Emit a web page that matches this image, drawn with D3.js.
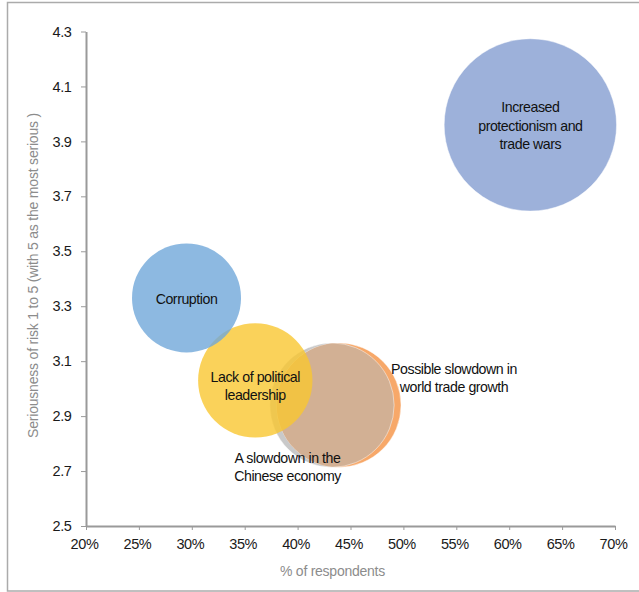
<!DOCTYPE html>
<html>
<head>
<meta charset="utf-8">
<script src="https://cdn.jsdelivr.net/npm/d3@7"></script>
<style>
  body { margin: 0; background: #fff; }
  svg { display: block; }
  text { font-family: "Liberation Sans", Arial, sans-serif; }
</style>
</head>
<body>
<svg id="chart" width="639" height="592"></svg>
<script>
// Risk categories and their survey results
const risks = [
  "Increased protectionism and trade wars",
  "Corruption",
  "Lack of political leadership",
  "A slowdown in the Chinese economy",
  "Possible slowdown in world trade growth"
];
const labelLines = [
  ["Increased", "protectionism and", "trade wars"],
  ["Corruption"],
  ["Lack of political", "leadership"],
  ["A slowdown in the", "Chinese economy"],
  ["Possible slowdown in", "world trade growth"]
];
const respondentShare = [62, 29.5, 36, 43.25, 43.9];   // % of respondents
const seriousness     = [3.96, 3.33, 3.03, 2.94, 2.94]; // score 1-5
const bubbleSize      = [100, 40, 44, 52, 52];          // relative bubble area

const xTicks = [20, 25, 30, 35, 40, 45, 50, 55, 60, 65, 70];
const yTicks = [2.5, 2.7, 2.9, 3.1, 3.3, 3.5, 3.7, 3.9, 4.1, 4.3];

// Styling / layout (not data)
const fills = ["#9DB1DA", "#70A8DA", "#F9C731", "#C9C9C9", "#F7A869"];
const fillOpacity = [1, 0.8, 0.8, 1, 1];
const overlapFill = "#D2B094";
// label anchors that differ from the bubble centre, in data units
const labelAnchor = { 2: [36, 3.012], 3: [39.05, 2.717], 4: [54.78, 3.041] };

const svg = d3.select("#chart");
const W = 639, H = 592;
const plot = { left: 86, right: 615, top: 31.5, bottom: 526 };

// outer frame
svg.append("rect")
  .attr("x", 7.5).attr("y", 2.5)
  .attr("width", W + 20).attr("height", H - 1 - 2.5)
  .attr("fill", "none").attr("stroke", "#ABABAB").attr("stroke-width", 1.5);

const x = d3.scaleLinear().domain([20, 70]).range([plot.left, plot.right]);
const y = d3.scaleLinear().domain([2.5, 4.3]).range([plot.bottom, plot.top]);
const r = d3.scaleSqrt().domain([0, 100]).range([0, 86.2]);

const data = risks.map((name, i) => ({
  i, name,
  share: respondentShare[i],
  score: seriousness[i],
  size: bubbleSize[i],
  lines: labelLines[i]
}));

// axes
const axisColor = "#9A9A9A";
const gx = svg.append("g")
  .attr("transform", `translate(0,${plot.bottom})`)
  .call(d3.axisBottom(x).tickValues(xTicks).tickFormat(d => d + "%")
    .tickSize(4).tickSizeOuter(0).tickPadding(9));
const gy = svg.append("g")
  .attr("transform", `translate(${plot.left},0)`)
  .call(d3.axisLeft(y).tickValues(yTicks).tickFormat(d3.format(".1f"))
    .tickSize(5).tickSizeOuter(0).tickPadding(9.5));

[gx, gy].forEach(g => {
  g.select(".domain").attr("stroke", axisColor).attr("stroke-width", 2);
  g.selectAll(".tick line").attr("stroke", axisColor).attr("stroke-width", 1);
  g.selectAll(".tick text").attr("fill", "#1a1a1a").attr("font-size", 14.5)
    .attr("letter-spacing", "-0.4px")
    .attr("font-family", "'Liberation Sans', Arial, sans-serif");
});
gx.selectAll(".tick text").attr("dx", -2);
gx.selectAll(".tick text").attr("dy", "0.68em");

// axis titles
svg.append("text")
  .attr("x", (plot.left + plot.right) / 2 - 18).attr("y", 576)
  .attr("text-anchor", "middle").attr("font-size", 14).attr("fill", "#8C8C8C")
  .attr("letter-spacing", "-0.25px")
  .text("% of respondents");
svg.append("text")
  .attr("transform", `translate(38,${275.5}) rotate(-90)`)
  .attr("text-anchor", "middle").attr("font-size", 14).attr("fill", "#8C8C8C")
  .attr("letter-spacing", "-0.2px")
  .text("Seriousness of risk 1 to 5 (with 5 as the most serious )");

// bubbles, drawn back to front
const defs = svg.append("defs");
const bubbles = svg.append("g");
[0, 3, 4].forEach(i => {
  const d = data[i];
  bubbles.append("circle")
    .attr("cx", x(d.share)).attr("cy", y(d.score)).attr("r", r(d.size))
    .attr("fill", fills[i]).attr("fill-opacity", fillOpacity[i])
    .attr("stroke", "#fff").attr("stroke-opacity", 0.6).attr("stroke-width", 0.8);
});

// overlap of the China and world-trade bubbles
const a = data[3], b = data[4];
defs.append("clipPath").attr("id", "clip-trade")
  .append("circle")
  .attr("cx", x(b.share)).attr("cy", y(b.score)).attr("r", r(b.size));
bubbles.append("circle")
  .attr("clip-path", "url(#clip-trade)")
  .attr("cx", x(a.share)).attr("cy", y(a.score)).attr("r", r(a.size))
  .attr("fill", overlapFill)
  .attr("stroke", "#fff").attr("stroke-opacity", 0.6).attr("stroke-width", 0.8);

[2, 1].forEach(i => {
  const d = data[i];
  bubbles.append("circle")
    .attr("cx", x(d.share)).attr("cy", y(d.score)).attr("r", r(d.size))
    .attr("fill", fills[i]).attr("fill-opacity", fillOpacity[i]);
});

// labels
const lineH = 18.4;
const labels = svg.append("g").attr("font-size", 14.2).attr("fill", "#111")
  .attr("letter-spacing", "-0.45px").attr("text-anchor", "middle");
data.forEach(d => {
  const anchor = labelAnchor[d.i] || [d.share, d.score];
  const cx = x(anchor[0]), cy = y(anchor[1]);
  const n = d.lines.length;
  d.lines.forEach((ln, k) => {
    labels.append("text")
      .attr("x", cx)
      .attr("y", cy + (k - (n - 1) / 2) * lineH + 0.8)
      .attr("dy", "0.35em")
      .text(ln);
  });
});
</script>
</body>
</html>
